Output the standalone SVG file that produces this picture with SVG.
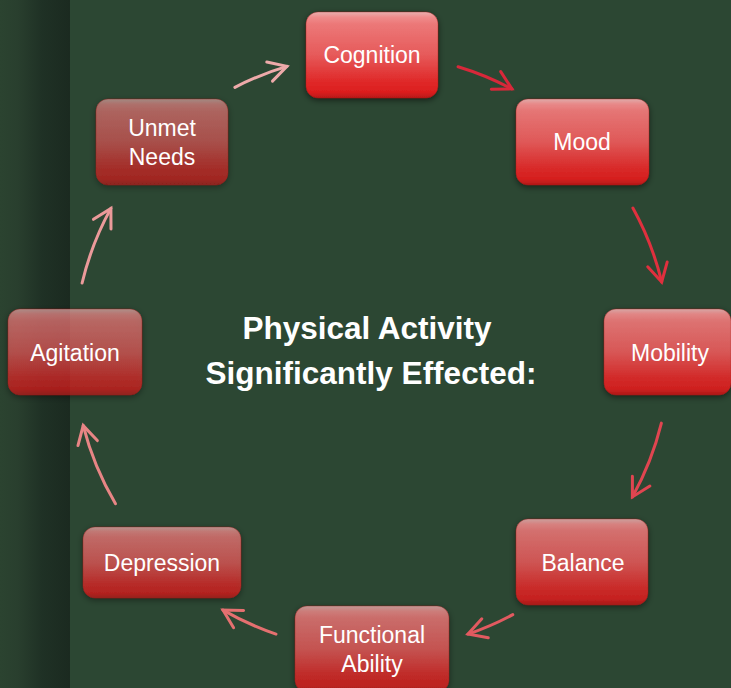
<svg xmlns="http://www.w3.org/2000/svg" width="731" height="688" viewBox="0 0 731 688">
<defs>
<linearGradient id="strip" x1="0" y1="0" x2="1" y2="0">
<stop offset="0" stop-color="#2b4330"/>
<stop offset="0.25" stop-color="#293f2e"/>
<stop offset="0.6" stop-color="#1f3125"/>
<stop offset="1" stop-color="#1b2a20"/>
</linearGradient>
<linearGradient id="nodeFill" x1="0" y1="0" x2="0" y2="1">
<stop offset="0" stop-color="#e8b0b0"/>
<stop offset="0.06" stop-color="#f08c8c"/>
<stop offset="0.14" stop-color="#ec7878"/>
<stop offset="0.5" stop-color="#e65a5a"/>
<stop offset="0.8" stop-color="#e02a2a"/>
<stop offset="0.93" stop-color="#dc1e1e"/>
<stop offset="1" stop-color="#b81818"/>
</linearGradient>
<filter id="shadow" x="-20%" y="-20%" width="140%" height="150%">
<feDropShadow dx="0" dy="2" stdDeviation="3" flood-color="#000" flood-opacity="0.55"/>
</filter>
<marker id="m1" markerUnits="userSpaceOnUse" markerWidth="30" markerHeight="30" viewBox="-20 -15 25 30" refX="0" refY="0" orient="auto" overflow="visible"><path d="M-18,-10 L0,0 L-18,10" fill="none" stroke="#d8283a" stroke-width="3" stroke-linecap="round"/></marker>
<marker id="m2" markerUnits="userSpaceOnUse" markerWidth="30" markerHeight="30" viewBox="-20 -15 25 30" refX="0" refY="0" orient="auto" overflow="visible"><path d="M-18,-10 L0,0 L-18,10" fill="none" stroke="#e0303e" stroke-width="3" stroke-linecap="round"/></marker>
<marker id="m3" markerUnits="userSpaceOnUse" markerWidth="30" markerHeight="30" viewBox="-20 -15 25 30" refX="0" refY="0" orient="auto" overflow="visible"><path d="M-18,-10 L0,0 L-18,10" fill="none" stroke="#e04550" stroke-width="3" stroke-linecap="round"/></marker>
<marker id="m4" markerUnits="userSpaceOnUse" markerWidth="30" markerHeight="30" viewBox="-20 -15 25 30" refX="0" refY="0" orient="auto" overflow="visible"><path d="M-18,-10 L0,0 L-18,10" fill="none" stroke="#e25a60" stroke-width="3" stroke-linecap="round"/></marker>
<marker id="m5" markerUnits="userSpaceOnUse" markerWidth="30" markerHeight="30" viewBox="-20 -15 25 30" refX="0" refY="0" orient="auto" overflow="visible"><path d="M-18,-10 L0,0 L-18,10" fill="none" stroke="#e57070" stroke-width="3" stroke-linecap="round"/></marker>
<marker id="m6" markerUnits="userSpaceOnUse" markerWidth="30" markerHeight="30" viewBox="-20 -15 25 30" refX="0" refY="0" orient="auto" overflow="visible"><path d="M-18,-10 L0,0 L-18,10" fill="none" stroke="#e88585" stroke-width="3" stroke-linecap="round"/></marker>
<marker id="m7" markerUnits="userSpaceOnUse" markerWidth="30" markerHeight="30" viewBox="-20 -15 25 30" refX="0" refY="0" orient="auto" overflow="visible"><path d="M-18,-10 L0,0 L-18,10" fill="none" stroke="#eb9a9a" stroke-width="3" stroke-linecap="round"/></marker>
<marker id="m8" markerUnits="userSpaceOnUse" markerWidth="30" markerHeight="30" viewBox="-20 -15 25 30" refX="0" refY="0" orient="auto" overflow="visible"><path d="M-18,-10 L0,0 L-18,10" fill="none" stroke="#eeaaaa" stroke-width="3" stroke-linecap="round"/></marker>
</defs>
<style>
.node rect { fill: url(#nodeFill); stroke: #a01818; stroke-opacity: 0.35; stroke-width: 1; filter: url(#shadow); }
.node text { font-family: "Liberation Sans", Arial, sans-serif; font-size: 23px; fill: #ffffff; text-anchor: middle; }
.title { font-family: "Liberation Sans", Arial, sans-serif; font-size: 31.5px; font-weight: bold; fill: #ffffff; text-anchor: middle; }
.conn path { fill: none; stroke-width: 3; stroke-linecap: round; }
</style>
<rect x="0" y="0" width="731" height="688" fill="#2c4733"/>
<rect x="0" y="0" width="70" height="688" fill="url(#strip)"/>

<g id="connectors" class="conn">
<path d="M458.1,66.7 A298,298 0 0 1 511.9,88.9" stroke="#d8283a" marker-end="url(#m1)"/>
<path d="M632.9,208 A298,298 0 0 1 661.7,281.9" stroke="#e0303e" marker-end="url(#m2)"/>
<path d="M661.4,423.1 A298,298 0 0 1 632.4,496.9" stroke="#e04550" marker-end="url(#m3)"/>
<path d="M512.8,614.6 A298,298 0 0 1 468,634.1" stroke="#e25a60" marker-end="url(#m4)"/>
<path d="M276,634.1 A298,298 0 0 1 223,610.1" stroke="#e57070" marker-end="url(#m5)"/>
<path d="M115.5,503.7 A298,298 0 0 1 83.2,425.6" stroke="#e88585" marker-end="url(#m6)"/>
<path d="M82.1,283 A298,298 0 0 1 110.9,208.4" stroke="#eb9a9a" marker-end="url(#m7)"/>
<path d="M234.9,87.4 A298,298 0 0 1 286.9,66.4" stroke="#eeaaaa" marker-end="url(#m8)"/>
</g>

<g id="cognition" class="node"><rect x="306" y="12" width="132" height="86" rx="12" fill-opacity="1"/><text x="372" y="63">Cognition</text></g>
<g id="mood" class="node"><rect x="516" y="99" width="133" height="86" rx="12" fill-opacity="0.95"/><text x="582" y="150">Mood</text></g>
<g id="mobility" class="node"><rect x="604" y="309" width="127" height="86" rx="12" fill-opacity="0.9"/><text x="670" y="361">Mobility</text></g>
<g id="balance" class="node"><rect x="516" y="519" width="132" height="86" rx="12" fill-opacity="0.84"/><text x="583" y="571">Balance</text></g>
<g id="functional-ability" class="node"><rect x="295" y="606" width="154" height="86" rx="12" fill-opacity="0.78"/><text x="372" y="643">Functional</text><text x="372" y="672">Ability</text></g>
<g id="depression" class="node"><rect x="83" y="527" width="158" height="71" rx="12" fill-opacity="0.72"/><text x="162" y="571">Depression</text></g>
<g id="agitation" class="node"><rect x="8" y="309" width="134" height="86" rx="12" fill-opacity="0.67"/><text x="75" y="361">Agitation</text></g>
<g id="unmet-needs" class="node"><rect x="96" y="99" width="132" height="86" rx="12" fill-opacity="0.61"/><text x="162" y="136">Unmet</text><text x="162" y="165">Needs</text></g>

<g id="center-title">
<text class="title" x="367" y="339">Physical Activity</text>
<text class="title" x="371" y="384">Significantly Effected:</text>
</g>
</svg>
